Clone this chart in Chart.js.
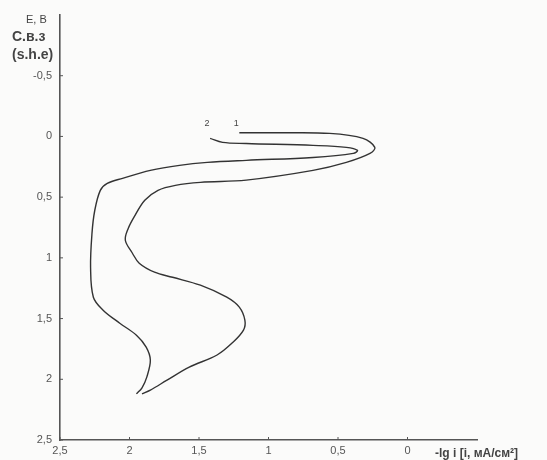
<!DOCTYPE html>
<html>
<head>
<meta charset="utf-8">
<script src="https://cdn.jsdelivr.net/npm/chart.js@4/dist/chart.umd.min.js"></script>
<style>
html,body{margin:0;padding:0;background:#fbfbfa;}
canvas{display:block;}
</style>
</head>
<body>
<canvas id="c" width="547" height="460"></canvas>
<script>
// Curve 1: -lg i (x) vs E (y)
const curve1X = [1.21,0.92,0.56,0.32,0.235,0.27,0.44,0.68,1.16,1.49,1.67,1.795,1.89,1.96,2.01,2.03,1.98,1.93,1.82,1.69,1.49,1.30,1.21,1.17,1.18,1.26,1.37,1.57,1.73,1.85,1.91];
const curve1Y = [-0.03,-0.03,-0.025,0.016,0.09,0.14,0.214,0.28,0.36,0.378,0.403,0.444,0.526,0.65,0.76,0.855,0.96,1.044,1.118,1.16,1.225,1.324,1.406,1.513,1.595,1.70,1.80,1.90,2.007,2.089,2.12];
// Curve 2
const curve2X = [1.42,1.33,1.16,0.68,0.44,0.36,0.39,0.68,1.16,1.44,1.64,1.85,2.05,2.16,2.21,2.25,2.27,2.28,2.26,2.19,2.07,1.95,1.88,1.85,1.875,1.91,1.95];
const curve2Y = [0.016,0.049,0.058,0.074,0.09,0.115,0.14,0.173,0.197,0.214,0.238,0.28,0.345,0.387,0.444,0.61,0.80,1.077,1.324,1.431,1.538,1.637,1.735,1.842,1.98,2.07,2.12];
const curveNames = ['1','2'];
const xTicks = [2.5,2,1.5,1,0.5,0];
const xTickLabels = ['2,5','2','1,5','1','0,5','0'];
const yTicks = [-0.5,0,0.5,1,1.5,2,2.5];
const yTickLabels = ['-0,5','0','0,5','1','1,5','2','2,5'];

const pts = (xs, ys) => xs.map((x,i)=>({x:x, y:ys[i]}));

const extras = {
  id:'extras',
  afterDraw(chart){
    const ctx = chart.ctx;
    const xs = chart.scales.x, ys = chart.scales.y;
    ctx.save();
    ctx.strokeStyle = '#555'; ctx.lineWidth = 1;
    xTicks.forEach(v=>{const p = xs.getPixelForValue(v); ctx.beginPath(); ctx.moveTo(p, ys.bottom); ctx.lineTo(p, ys.bottom-3); ctx.stroke();});
    yTicks.forEach(v=>{const p = ys.getPixelForValue(v); ctx.beginPath(); ctx.moveTo(xs.left, p); ctx.lineTo(xs.left+3, p); ctx.stroke();});
    ctx.fillStyle = '#444';
    ctx.textBaseline = 'middle';
    ctx.textAlign = 'left';
    ctx.font = '11px "Liberation Sans", Arial, sans-serif';
    ctx.fillText('E, B', 26, 20);
    ctx.font = 'bold 14px "Liberation Sans", Arial, sans-serif';
    ctx.fillText('С.в.з', 12, 37);
    ctx.fillText('(s.h.e)', 12, 55);
    ctx.font = 'bold 12px "Liberation Sans", Arial, sans-serif';
    ctx.fillText('-lg i [i, мА/см²]', 435, 454);
    // curve labels near start points
    ctx.font = '9px "Liberation Sans", Arial, sans-serif';
    ctx.textAlign = 'center';
    ctx.fillText(curveNames[0], xs.getPixelForValue(curve1X[0]) - 3, ys.getPixelForValue(curve1Y[0]) - 9);
    ctx.fillText(curveNames[1], xs.getPixelForValue(curve2X[0]) - 3, ys.getPixelForValue(curve2Y[0]) - 15);
    ctx.restore();
  }
};

new Chart(document.getElementById('c'), {
  type:'scatter',
  data:{datasets:[
    {label:curveNames[0], data:pts(curve1X,curve1Y), showLine:true, borderColor:'#333', borderWidth:1.4, pointRadius:0, tension:0.35, fill:false},
    {label:curveNames[1], data:pts(curve2X,curve2Y), showLine:true, borderColor:'#333', borderWidth:1.4, pointRadius:0, tension:0.35, fill:false}
  ]},
  options:{
    responsive:false, animation:false,
    layout:{padding:{left:0,right:70,top:15,bottom:0}},
    plugins:{legend:{display:false}, tooltip:{enabled:false}},
    scales:{
      x:{type:'linear', reverse:true, min:-0.5, max:2.5,
        afterBuildTicks:s=>{s.ticks = xTicks.map(v=>({value:v}));},
        afterFit:s=>{s.height = 20;},
        ticks:{autoSkip:false, maxRotation:0, padding:4, color:'#555',
          font:{size:11, family:'"Liberation Sans", Arial, sans-serif'},
          callback:(v,i)=>xTickLabels[i]},
        grid:{drawOnChartArea:false, drawTicks:false},
        border:{color:'#555', width:1.6}},
      y:{type:'linear', reverse:true, min:-1, max:2.5,
        afterBuildTicks:s=>{s.ticks = yTicks.map(v=>({value:v}));},
        afterFit:s=>{s.width = 60;},
        ticks:{autoSkip:false, padding:8, color:'#555',
          font:{size:11, family:'"Liberation Sans", Arial, sans-serif'},
          callback:(v,i)=>yTickLabels[i]},
        grid:{drawOnChartArea:false, drawTicks:false},
        border:{color:'#555', width:1.6}}
    }
  },
  plugins:[extras]
});
</script>
</body>
</html>
